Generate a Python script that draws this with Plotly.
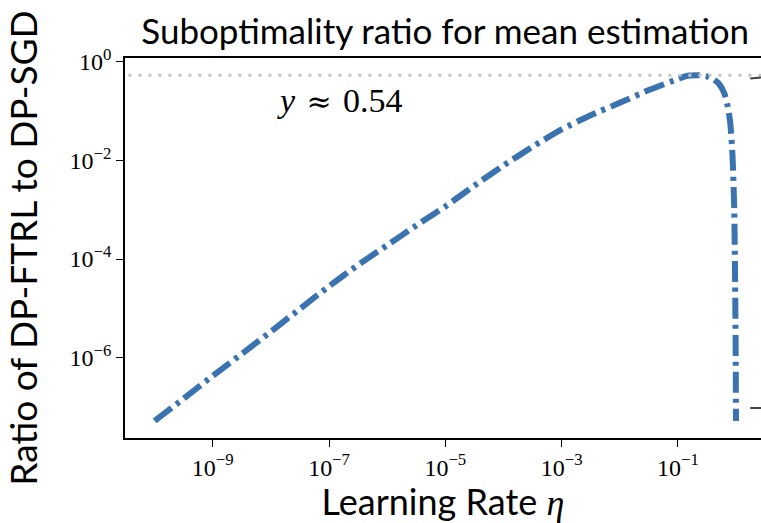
import plotly.graph_objects as go

# Data (learning rate eta, ratio)
eta = [1e-10, 3.16e-10, 1e-9, 3.16e-9, 1e-8, 3.16e-8, 1e-7, 3.16e-7, 1e-6, 3.16e-6,
       1e-5, 3.16e-5, 1e-4, 3.16e-4, 1e-3, 3.16e-3, 1e-2, 3.16e-2, 0.1, 0.126,
       0.158, 0.2, 0.251, 0.316, 0.398, 0.501, 0.631, 0.708, 0.794, 0.871,
       0.933, 0.966, 0.989, 0.999]
ratio = [5.2e-8, 1.48e-7, 4.27e-7, 1.2e-6, 3.39e-6, 9.8e-6, 2.82e-5, 7.6e-5, 1.91e-4, 4.8e-4,
         1.17e-3, 3.1e-3, 7.9e-3, 1.9e-2, 4.27e-2, 8.3e-2, 0.148, 0.269, 0.45, 0.50,
         0.53, 0.54, 0.535, 0.51, 0.455, 0.37, 0.23, 0.14, 0.06, 0.0126,
         1.0e-3, 3.2e-5, 1.0e-6, 5.2e-8]
peak_value = 0.54

x_tickvals = [1e-9, 1e-7, 1e-5, 1e-3, 1e-1]
x_ticktext = ["10<sup>−9</sup>", "10<sup>−7</sup>", "10<sup>−5</sup>", "10<sup>−3</sup>", "10<sup>−1</sup>"]
y_tickvals = [1e0, 1e-2, 1e-4, 1e-6]
y_ticktext = ["10<sup>0</sup>", "10<sup>−2</sup>", "10<sup>−4</sup>", "10<sup>−6</sup>"]

title_text = "Suboptimality ratio for mean estimation"
x_label = "Learning Rate <span style='font-family:Liberation Serif'><i>η</i></span>"
y_label = "Ratio of DP-FTRL to DP-SGD"
note_text = "<i>y</i>\u2004<span style='font-family:DejaVu Serif;font-size:30px'>≈</span>\u20040.54"

SANS = "Lato"
SERIF = "Liberation Serif"

fig = go.Figure()
fig.add_trace(go.Scatter(
    x=eta, y=ratio, mode="lines",
    line=dict(color="#3b73b0", width=6, dash="21px,6px,4px,6px", shape="spline", smoothing=0.6),
    showlegend=False, hoverinfo="skip"))
fig.add_trace(go.Scatter(
    x=[1e-12, 10], y=[peak_value, peak_value], mode="lines",
    line=dict(color="#c4c4c4", width=3, dash="3px,7px"),
    showlegend=False, hoverinfo="skip"))

fig.update_layout(
    width=761, height=523,
    margin=dict(l=125, r=0, t=58, b=85),
    plot_bgcolor="white", paper_bgcolor="white",
    title=dict(text=title_text, x=0.585, xanchor="center", y=0.94, yanchor="middle",
               font=dict(family=SANS, size=35, color="black")),
    xaxis=dict(type="log", range=[-10.51, 0.43],
               tickvals=x_tickvals, ticktext=x_ticktext,
               ticks="outside", ticklen=7, tickwidth=1.3, tickcolor="black",
               showline=True, linecolor="black", linewidth=1.5, mirror=True,
               showgrid=False, zeroline=False,
               tickfont=dict(family=SERIF, size=24, color="black"),
               title=dict(text=x_label, font=dict(family=SANS, size=36, color="black"), standoff=4)),
    yaxis=dict(type="log", range=[-7.63, 0.08],
               tickvals=y_tickvals, ticktext=y_ticktext,
               ticks="outside", ticklen=7, tickwidth=1.3, tickcolor="black",
               showline=True, linecolor="black", linewidth=1.5,
               showgrid=False, zeroline=False,
               tickfont=dict(family=SERIF, size=24, color="black"),
               title=dict(text=y_label, font=dict(family=SANS, size=37, color="black"), standoff=23)),
    annotations=[dict(text=note_text, xref="paper", yref="paper", x=0.338, y=0.889,
                      xanchor="center", yanchor="middle", showarrow=False,
                      font=dict(family=SERIF, size=34, color="black"))],
    shapes=[
        dict(type="line", xref="paper", yref="paper", x0=0.983, x1=1.0, y0=0.946, y1=0.949,
             line=dict(color="#444444", width=2)),
        dict(type="line", xref="paper", yref="paper", x0=0.983, x1=1.0, y0=0.079, y1=0.079,
             line=dict(color="#444444", width=2)),
    ],
)

fig.write_html("out.html")
